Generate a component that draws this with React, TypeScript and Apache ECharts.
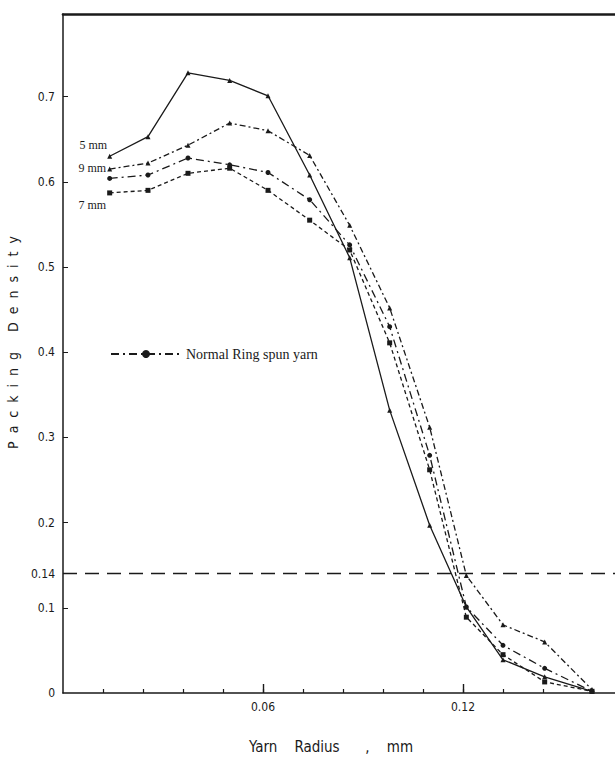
import React, { useEffect, useRef } from "react";
import * as echarts from "echarts";

// Yarn radius (mm) at the measured points
const radius = [0.014, 0.0255, 0.0375, 0.05, 0.0615, 0.074, 0.086, 0.098, 0.11, 0.121, 0.132, 0.1445, 0.1587];
// Packing density per series
const fiveMm = [0.63, 0.653, 0.728, 0.719, 0.701, 0.608, 0.511, 0.332, 0.197, 0.101, 0.039, 0.019, 0.002];
const nineMm = [0.615, 0.622, 0.643, 0.669, 0.66, 0.631, 0.549, 0.452, 0.312, 0.138, 0.08, 0.06, 0.004];
const ringSpun = [0.604, 0.608, 0.628, 0.62, 0.611, 0.579, 0.526, 0.43, 0.279, 0.101, 0.056, 0.029, 0.002];
const sevenMm = [0.587, 0.59, 0.61, 0.616, 0.59, 0.555, 0.52, 0.411, 0.262, 0.089, 0.045, 0.013, 0.002];

const yLabelValues = [0, 0.1, 0.14, 0.2, 0.3, 0.4, 0.5, 0.6, 0.7];
const yTickValues = [0.1, 0.2, 0.3, 0.4, 0.5, 0.6, 0.7];
const xMinorTicks = [0.012, 0.024, 0.036, 0.048, 0.06, 0.072, 0.084, 0.096, 0.108, 0.12, 0.132, 0.144];
const xMajorTicks = [0.06, 0.12];
const criticalDensity = 0.14;

const X_MAX = 0.1656;
const Y_MAX = 0.797;
const INK = "#1a1a1a";
const SANS = "'DejaVu Sans Condensed', 'Liberation Sans Narrow', 'DejaVu Sans', sans-serif";
const SERIF = "'Liberation Serif', 'DejaVu Serif', serif";

function buildData(values: number[], label?: { text: string; offset: number[] }) {
  return radius.map((x, i) => {
    if (i === 0 && label) {
      return {
        value: [x, values[i]],
        label: {
          show: true,
          formatter: label.text,
          position: "left",
          distance: 4,
          offset: label.offset,
          color: INK,
          fontFamily: SERIF,
          fontSize: 12,
        },
      };
    }
    return [x, values[i]];
  });
}

export default function App() {
  const ref = useRef<HTMLDivElement>(null);

  useEffect(() => {
    document.body.style.margin = "0";
    if (!ref.current) return;
    const chart = echarts.init(ref.current, undefined, { renderer: "svg" });

    const lineBase = (name: string, data: any[], dash: any, symbol: string, extra: any = {}) => ({
      name,
      type: "line",
      data,
      symbol,
      symbolSize: 5,
      itemStyle: { color: INK },
      lineStyle: { color: INK, width: 1.3, type: dash },
      ...extra,
    });

    chart.setOption({
      animation: false,
      backgroundColor: "#fff",
      grid: { left: 63, right: 0, top: 14, bottom: 80, containLabel: false, outerBoundsMode: "none" },
      legend: {
        data: ["Normal Ring spun yarn"],
        left: 105,
        top: 342,
        itemWidth: 70,
        itemHeight: 10,
        itemGap: 8,
        textStyle: { color: INK, fontFamily: SERIF, fontSize: 14 },
      },
      xAxis: [
        {
          type: "value",
          min: 0,
          max: X_MAX,
          position: "bottom",
          name: "Yarn    Radius      ,    mm",
          nameLocation: "middle",
          nameGap: 46,
          nameTextStyle: { color: INK, fontFamily: SANS, fontSize: 15, padding: [0, 16, 0, 0] },
          axisLine: { show: true, onZero: false, lineStyle: { color: INK, width: 1.6 } },
          axisTick: { show: true, inside: true, length: 4, customValues: xMinorTicks, lineStyle: { color: INK, width: 1.2 } },
          axisLabel: {
            show: true,
            customValues: xMajorTicks,
            formatter: (v: number) => v.toFixed(2),
            color: INK,
            fontFamily: SANS,
            fontSize: 12,
            margin: 8,
          },
          splitLine: { show: false },
        },
        {
          type: "value",
          min: 0,
          max: X_MAX,
          position: "bottom",
          axisLine: { show: false },
          axisTick: { show: true, inside: true, length: 9, customValues: xMajorTicks, lineStyle: { color: INK, width: 1.4 } },
          axisLabel: { show: false },
          splitLine: { show: false },
        },
        {
          type: "value",
          min: 0,
          max: X_MAX,
          position: "top",
          axisLine: { show: true, onZero: false, lineStyle: { color: INK, width: 2.6 } },
          axisTick: { show: false },
          axisLabel: { show: false },
          splitLine: { show: false },
        },
      ],
      yAxis: {
        type: "value",
        min: 0,
        max: Y_MAX,
        name: "P  a  c  k  i  n  g     D  e  n  s  i  t  y",
        nameLocation: "middle",
        nameGap: 36,
        nameTextStyle: { color: INK, fontFamily: SANS, fontSize: 14, padding: [0, 0, 0, 22] },
        axisLine: { show: true, onZero: false, lineStyle: { color: INK, width: 1.5 } },
        axisTick: { show: true, inside: true, length: 5, customValues: yTickValues, lineStyle: { color: INK, width: 1 } },
        axisLabel: {
          show: true,
          customValues: yLabelValues,
          formatter: (v: number) => (v === 0 ? "0" : Math.abs(v - 0.14) < 1e-6 ? "0.14" : v.toFixed(1)),
          color: INK,
          fontFamily: SANS,
          fontSize: 12,
          margin: 8,
        },
        splitLine: { show: false },
      },
      series: [
        lineBase("5 mm", buildData(fiveMm, { text: "5 mm", offset: [4, -11] }), "solid", "triangle", {
          markLine: {
            silent: true,
            symbol: "none",
            label: { show: false },
            lineStyle: { color: INK, width: 1.3, type: [14, 8] },
            data: [{ yAxis: criticalDensity }],
          },
        }),
        lineBase("9 mm", buildData(nineMm, { text: "9 mm", offset: [3, -1] }), [6, 3, 2, 3], "triangle"),
        lineBase("Normal Ring spun yarn", buildData(ringSpun), [8, 4, 2, 4], "circle"),
        lineBase("7 mm", buildData(sevenMm, { text: "7 mm", offset: [3, 12] }), [4, 3], "rect"),
      ],
    });

    return () => chart.dispose();
  }, []);

  return <div ref={ref} style={{ width: 615, height: 773 }} />;
}
